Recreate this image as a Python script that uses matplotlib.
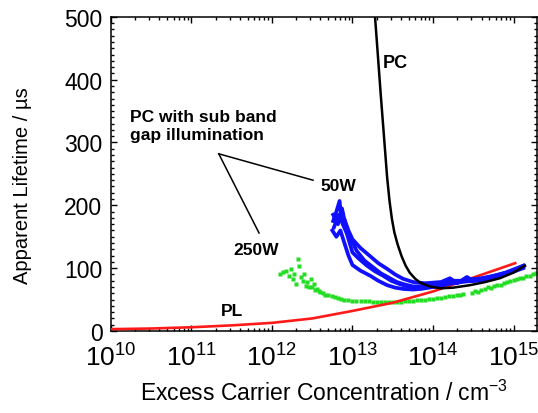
import numpy as np
import matplotlib
matplotlib.use("Agg")
import matplotlib.pyplot as plt
from matplotlib.ticker import LogLocator, MultipleLocator, FixedLocator, FixedFormatter

plt.rcParams['font.family'] = ['Liberation Sans', 'DejaVu Sans']
plt.rcParams['mathtext.fontset'] = 'custom'
plt.rcParams['mathtext.rm'] = 'Liberation Sans'
plt.rcParams['mathtext.it'] = 'Liberation Sans:italic'
plt.rcParams['mathtext.bf'] = 'Liberation Sans:bold'

# PC (black): log10 of excess carrier conc. and lifetime in us
pc_logn = [13.28, 13.31, 13.35, 13.40, 13.43, 13.46, 13.49, 13.52, 13.56, 13.61, 13.66,
           13.71, 13.78, 13.84, 13.96, 14.09, 14.25, 14.46, 14.65, 14.83, 15.00, 15.14]
pc_tau = [500, 448, 378, 295, 245, 207, 178, 157, 138, 119, 104,
          93, 83, 77, 71, 68, 69, 73, 78, 84, 93, 104]

# PL (red)
pl_logn = [10.0, 10.5, 11.0, 11.5, 12.0, 12.5, 13.0, 13.5, 14.0, 14.5, 15.02]
pl_tau = [3, 4, 6, 9, 13, 20, 32, 45, 63, 85, 108]

# PC with 50W sub band gap illumination (blue, several overlapping traces)
b50_logn_a = [12.76, 12.80, 12.84, 12.86, 12.90, 12.95, 13.00, 13.10, 13.22, 13.32, 13.43,
              13.53, 13.63, 13.75, 13.90, 14.00, 14.10, 14.21, 14.30, 14.42, 14.50,
              14.70, 14.90, 15.12]
b50_tau_a = [175, 190, 207, 180, 178, 160, 146, 132, 119, 108, 99,
             90, 83, 78, 76, 77, 78, 84, 76, 86, 80,
             86, 93, 104]
b50_logn_b = [12.75, 12.80, 12.85, 12.90, 12.95, 13.00, 13.10, 13.22, 13.32, 13.43, 13.53,
              13.63, 13.75, 13.85, 14.00, 14.10, 14.20, 14.30, 14.42, 14.55, 14.70,
              14.90, 15.12]
b50_tau_b = [160, 150, 160, 140, 120, 105, 96, 88, 80, 73, 69,
             67, 66, 67, 70, 72, 75, 77, 79, 80, 83,
             90, 100]
b50_logn_c = [12.76, 12.82, 12.87, 12.92, 12.97, 13.05, 13.15, 13.25, 13.35, 13.45, 13.55,
              13.65, 13.75, 13.90, 14.05, 14.15, 14.25, 14.35, 14.45, 14.60, 14.80,
              15.00, 15.13]
b50_tau_c = [185, 170, 195, 165, 150, 128, 112, 102, 92, 85, 78,
             74, 71, 71, 74, 77, 80, 80, 82, 84, 89,
             96, 104]
b50_logn_d = [12.77, 12.83, 12.88, 12.93, 13.00, 13.08, 13.18, 13.28, 13.38, 13.48, 13.58,
              13.68, 13.80, 13.95, 14.10, 14.25, 14.40, 14.60, 14.80, 15.00, 15.12]
b50_tau_d = [165, 185, 170, 155, 125, 115, 104, 95, 88, 80, 75,
             71, 69, 71, 74, 78, 80, 83, 88, 95, 102]

# PC with 250W sub band gap illumination (green dots)
g250_logn = [12.10, 12.14, 12.18, 12.21, 12.24, 12.26, 12.27, 12.30, 12.32, 12.33,
             12.36, 12.38, 12.40, 12.42, 12.44, 12.46, 12.48, 12.50, 12.52, 12.54,
             12.56, 12.58, 12.60, 12.63, 12.66, 12.70, 12.74, 12.78, 12.82, 12.86,
             12.90, 12.95, 13.00, 13.05, 13.10, 13.15, 13.20, 13.25, 13.30, 13.35,
             13.40, 13.45, 13.50, 13.55, 13.60, 13.65, 13.70, 13.75, 13.80, 13.85,
             13.90, 13.95, 14.00, 14.05, 14.10, 14.15, 14.20, 14.25, 14.30, 14.34,
             14.37,
             14.48, 14.52, 14.56, 14.60, 14.64, 14.68, 14.72, 14.76, 14.80, 14.84,
             14.88, 14.92, 14.96, 15.00, 15.04, 15.08, 15.12, 15.16, 15.20, 15.24,
             15.28]
g250_tau = [91, 94, 96, 88, 99, 83, 91, 75, 115, 103,
            86, 80, 91, 72, 78, 70, 83, 70, 75, 66,
            67, 64, 62, 60, 58, 57, 55, 54, 52, 51,
            50, 49, 48.5, 48, 47.5, 47, 47, 46.5, 46.5, 46,
            46, 46, 46, 46, 46.5, 47, 47.5, 48, 49, 49.5,
            50, 51, 51.5, 52, 53, 54, 55, 56, 57, 58,
            59,
            60, 63, 62, 66, 67, 70, 69, 72, 74, 73,
            77, 78, 80, 81, 82, 85, 84, 87, 88, 90,
            92]

fig = plt.figure(figsize=(5.38, 4.14), dpi=100)
ax = fig.add_axes([0.206, 0.198, 0.792, 0.759])

ax.plot(10.0 ** np.array(pl_logn), pl_tau, color='#ff1a1a', lw=1.9, zorder=3)
ax.plot(10.0 ** np.array(g250_logn), g250_tau, 's', color='#22dd22', ms=2.5, mec='none', zorder=2)
for xl, yl in [(b50_logn_a, b50_tau_a), (b50_logn_b, b50_tau_b),
               (b50_logn_c, b50_tau_c), (b50_logn_d, b50_tau_d)]:
    ax.plot(10.0 ** np.array(xl), yl, color='#1010ff', lw=2.7, zorder=4)
ax.plot(10.0 ** np.array(pc_logn), pc_tau, color='black', lw=1.8, zorder=5)

ax.set_xscale('log')
ax.set_xlim(1e10, 1.95e15)
ax.set_ylim(0, 500)

ax.xaxis.set_major_locator(FixedLocator([1e10, 1e11, 1e12, 1e13, 1e14, 1e15]))
ax.xaxis.set_major_formatter(FixedFormatter([r'$10^{10}$', r'$10^{11}$', r'$10^{12}$',
                                             r'$10^{13}$', r'$10^{14}$', r'$10^{15}$']))
ax.xaxis.set_minor_locator(LogLocator(base=10, subs=np.arange(2, 10), numticks=20))
ax.yaxis.set_major_locator(MultipleLocator(100))
ax.yaxis.set_minor_locator(MultipleLocator(10))

ax.tick_params(which='both', direction='in', top=True, right=True, width=1)
ax.tick_params(which='major', length=4)
ax.tick_params(which='minor', length=2)
ax.tick_params(axis='x', labelsize=19, pad=9)
ax.tick_params(axis='y', labelsize=16.5, pad=6)
for s in ax.spines.values():
    s.set_linewidth(1.1)

ax.set_xlabel('Excess Carrier Concentration / cm$^{-3}$', fontsize=16.5)
ax.set_ylabel('Apparent Lifetime / µs', fontsize=14.5)
ax.xaxis.set_label_coords(0.5, -0.155)
ax.yaxis.set_label_coords(-0.185, 0.465)

# annotations
ax.text(10 ** 13.38, 428, 'PC', fontsize=13, fontweight='bold', va='center', ha='left')
ax.text(10 ** 10.236, 354, 'PC with sub band\ngap illumination', fontsize=12.5,
        fontweight='bold', va='top', ha='left', linespacing=1.3)
ax.text(10 ** 12.83, 231, '50W', fontsize=12.5, fontweight='bold', va='center', ha='center')
ax.text(10 ** 11.81, 129, '250W', fontsize=12.5, fontweight='bold', va='center', ha='center')
ax.text(10 ** 11.50, 33, 'PL', fontsize=12.5, fontweight='bold', va='center', ha='center')
ax.plot([10 ** 11.34, 10 ** 12.51], [282, 240], color='black', lw=1.1)
ax.plot([10 ** 11.34, 10 ** 11.84], [282, 156], color='black', lw=1.1)

fig.savefig('out.png', dpi=100)
